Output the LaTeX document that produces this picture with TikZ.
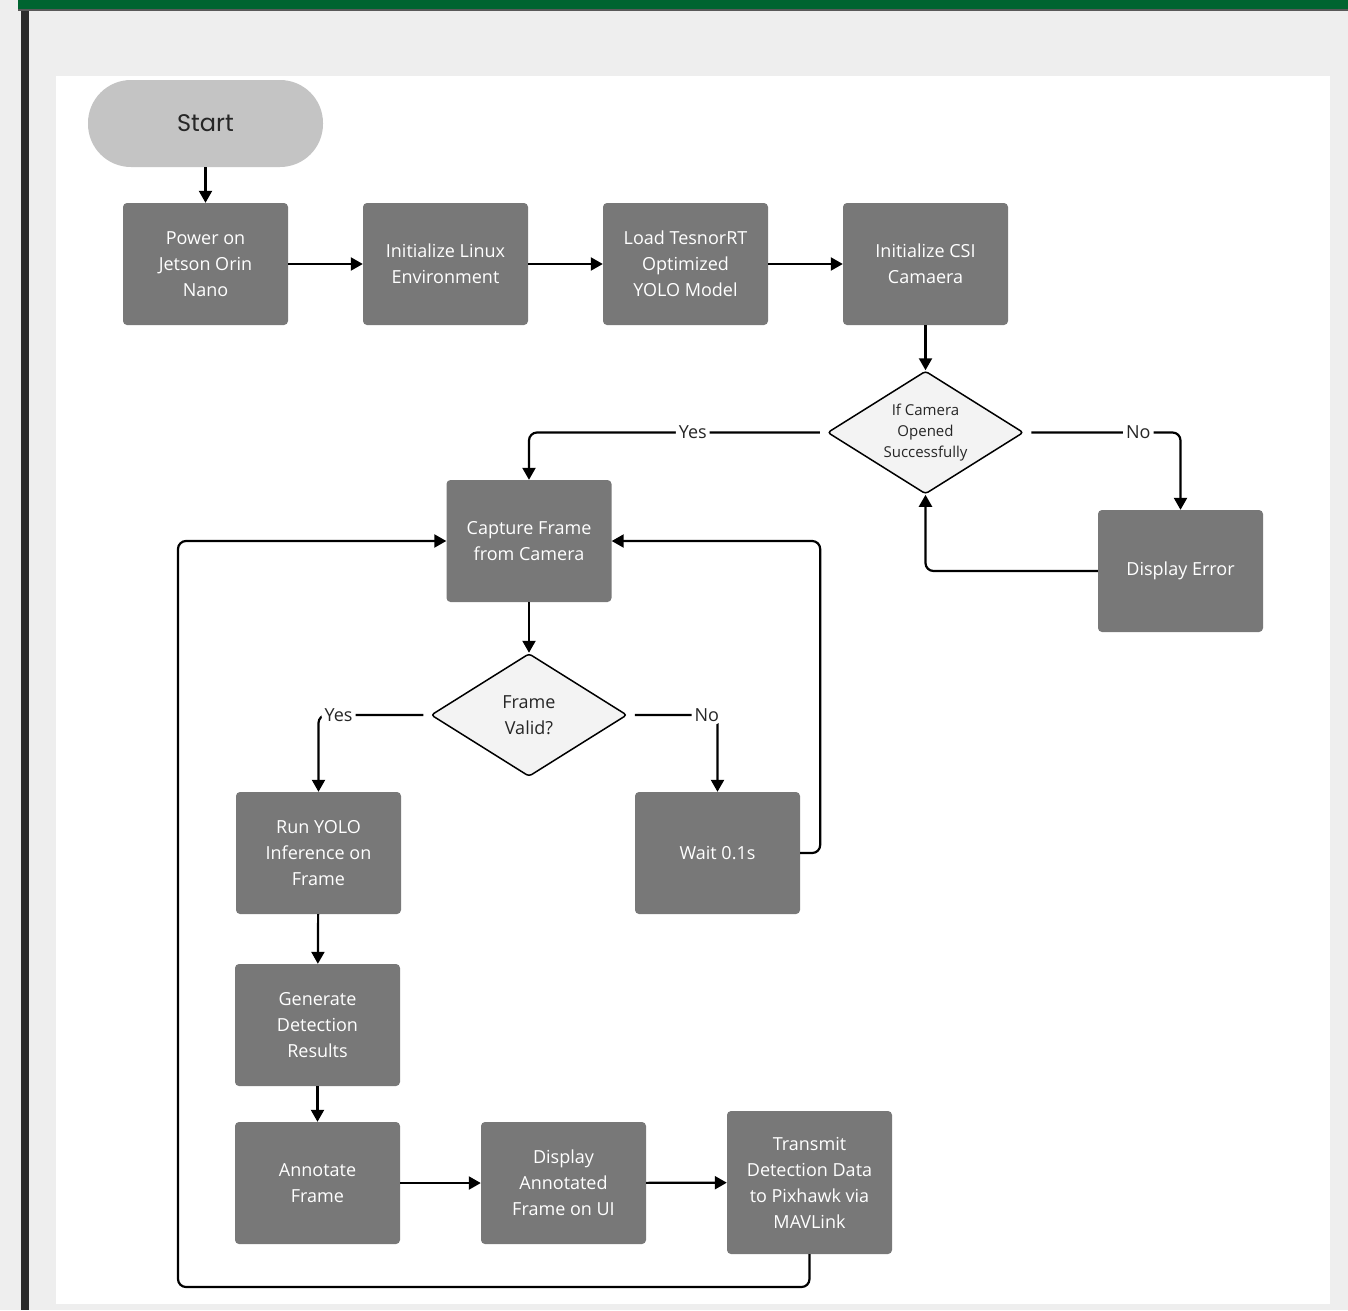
\documentclass[tikz,border=0pt]{standalone}
\usepackage{fontspec}
\setmainfont{Open Sans}
\newfontfamily\startfont{Poppins}
\usetikzlibrary{arrows.meta,positioning,shapes.geometric}
\definecolor{boxgray}{HTML}{787878}
\definecolor{startgray}{HTML}{C4C4C4}
\definecolor{dfill}{HTML}{F3F3F3}
\definecolor{pagebg}{HTML}{EEEEEE}
\definecolor{topgreen}{HTML}{006430}
\definecolor{sidebar}{HTML}{2B2B2B}
\begin{document}
\begin{tikzpicture}[x=1pt,y=-1pt,
      box/.style={rectangle,rounded corners=4pt,fill=boxgray,text=white,
                  minimum width=165pt,minimum height=122pt,inner sep=0pt,
                  align=center,font=\fontsize{18}{26}\selectfont},
      decision/.style={diamond,aspect=1.6,draw=black,line width=1.5pt,fill=dfill,
                  rounded corners=3pt,minimum width=196pt,minimum height=123pt,
                  inner sep=0pt,align=center,text=black!85},
      arrow/.style={-{Triangle[length=12pt,width=13pt]},line width=2.2pt,rounded corners=8pt},
      lbl/.style={fill=white,inner sep=3pt,text=black!85,font=\fontsize{18}{22}\selectfont}
    ]

    % page frame
    \useasboundingbox (0,0) rectangle (1348,1310);
    \fill[pagebg] (0,0) rectangle (1348,1310);
    \fill[topgreen] (18,0) rectangle (1348,9);
    \fill[black!65] (18,9) rectangle (1348,11);
    \fill[sidebar] (21,11) rectangle (29,1310);
    \fill[white] (56,76) rectangle (1330,1304);

    % start
    \node[rounded corners=43pt,fill=startgray,minimum width=235pt,minimum height=87pt,
          font=\startfont\fontsize{24}{28}\selectfont,text=black!85] (start) at (205.5,123.5) {Start};

    % setup row
    \node[box] (power) at (205.5,264) {Power on\\Jetson Orin\\Nano};
    \node[box] (linux) at (445.5,264) {Initialize Linux\\Environment};
    \node[box] (model) at (685.5,264) {Load TesnorRT\\Optimized\\YOLO Model};
    \node[box] (csi)   at (925.5,264) {Initialize CSI\\Camaera};

    % camera check
    \node[decision,font=\fontsize{15}{21}\selectfont] (camok) at (925.5,432.5)
          {If Camera\\Opened\\Successfully};
    \node[box] (err) at (1180.5,571) {Display Error};

    % capture loop
    \node[box] (capture) at (529,541) {Capture Frame\\from Camera};
    \node[decision,font=\fontsize{18}{26}\selectfont] (valid) at (529,715)
          {Frame\\Valid?};
    \node[box] (infer)  at (318.5,853) {Run YOLO\\Inference on\\Frame};
    \node[box] (wait)   at (717.5,853) {Wait 0.1s};
    \node[box] (detect) at (317.5,1025) {Generate\\Detection\\Results};
    \node[box] (annot)  at (317.5,1183) {Annotate\\Frame};
    \node[box] (show)   at (563.5,1183) {Display\\Annotated\\Frame on UI};
    \node[box,minimum height=143pt] (send) at (809.5,1182.5)
          {Transmit\\Detection Data\\to Pixhawk via\\MAVLink};

    \coordinate (loopcorner) at (178,1287);

    % arrows
    \draw[arrow] (start) -- (power);
    \draw[arrow] (power) -- (linux);
    \draw[arrow] (linux) -- (model);
    \draw[arrow] (model) -- (csi);
    \draw[arrow] (csi)   -- (camok);
    \draw[arrow,shorten <=7pt] (camok.west) -- node[lbl,pos=0.45]{Yes}
          (camok.west -| capture.north) -- (capture.north);
    \draw[arrow,shorten <=7pt] (camok.east) -- node[lbl,pos=0.73]{No}
          (camok.east -| err.north) -- (err.north);
    \draw[arrow] (err.west) -| (camok.south);
    \draw[arrow] (capture) -- (valid);
    \draw[arrow,shorten <=7pt] (valid.west) -- node[lbl,pos=0.82]{Yes}
          (valid.west -| infer.north) -- (infer.north);
    \draw[arrow,shorten <=7pt] (valid.east) -- node[lbl,pos=0.88]{No}
          (valid.east -| wait.north) -- (wait.north);
    \draw[arrow] (wait.east) -- ++(20,0) |- (capture.east);
    \draw[arrow] (infer)  -- (detect);
    \draw[arrow] (detect) -- (annot);
    \draw[arrow] (annot)  -- (show);
    \draw[arrow] (show)   -- (send);
    \draw[arrow] (send.south) |- (loopcorner) |- (capture.west);

  \end{tikzpicture}
\end{document}
